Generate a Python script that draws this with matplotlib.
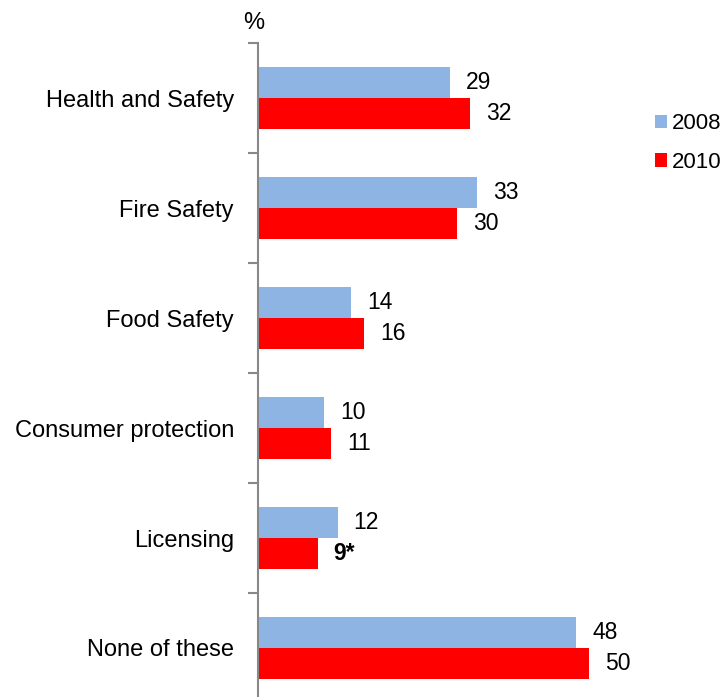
import matplotlib
matplotlib.use("Agg")
from matplotlib import pyplot as plt
import numpy as np

plt.rcParams['font.family'] = ['Liberation Sans', 'DejaVu Sans']

categories = ["Health and Safety", "Fire Safety", "Food Safety",
              "Consumer protection", "Licensing", "None of these"]
years = ["2008", "2010"]
vals_2008 = [29, 33, 14, 10, 12, 48]
vals_2010 = [32, 30, 16, 11, 9, 50]
labels_2010 = ["32", "30", "16", "11", "9*", "50"]

c2008 = "#8EB4E3"
c2010 = "#FF0000"
fs = 17

fig = plt.figure(figsize=(7.22, 6.97), dpi=100)
ax = fig.add_axes([258 / 722, -6 / 697, 1 - 258 / 722, 660 / 697])

y = np.arange(len(categories))
h = 0.286
b1 = ax.barh(y - h / 2, vals_2008, height=h, color=c2008, label=years[0])
b2 = ax.barh(y + h / 2, vals_2010, height=h, color=c2010, label=years[1])

for rect, v in zip(b1, vals_2008):
    ax.annotate(str(v), (rect.get_width(), rect.get_y() + rect.get_height() / 2),
                xytext=(16, 0), textcoords="offset pixels",
                ha="left", va="center", fontsize=fs - 0.5)
for rect, t in zip(b2, labels_2010):
    ax.annotate(t, (rect.get_width(), rect.get_y() + rect.get_height() / 2),
                xytext=(16, 0), textcoords="offset pixels",
                ha="left", va="center", fontsize=fs - 0.5,
                fontweight="bold" if "*" in t else "normal")

ax.set_xlim(0, 70)
ax.set_ylim(len(categories) - 0.5, -0.5)

# boundary ticks without labels, category names on minor ticks
ax.set_yticks(np.arange(-0.5, len(categories), 1))
ax.set_yticklabels([])
ax.set_yticks(y, minor=True)
ax.set_yticklabels(categories, minor=True, fontsize=fs)
ax.tick_params(axis="y", which="major", length=7, width=1.5, color="#888888")
ax.tick_params(axis="y", which="minor", length=0, pad=17.3)

for s in ["top", "right", "bottom"]:
    ax.spines[s].set_visible(False)
ax.spines["left"].set_color("#888888")
ax.spines["left"].set_linewidth(1.5)
ax.set_xticks([])

fig.text(254 / 722, 1 - 23 / 697, "%", ha="center", va="center", fontsize=fs)

fig.legend(loc="center left", bbox_to_anchor=(655 / 722, 1 - 143 / 697),
           frameon=False, fontsize=16, handlelength=0.55, handleheight=0.55,
           handletextpad=0.2, labelspacing=0.8, borderaxespad=0, borderpad=0)

fig.savefig("out.png", dpi=100)
